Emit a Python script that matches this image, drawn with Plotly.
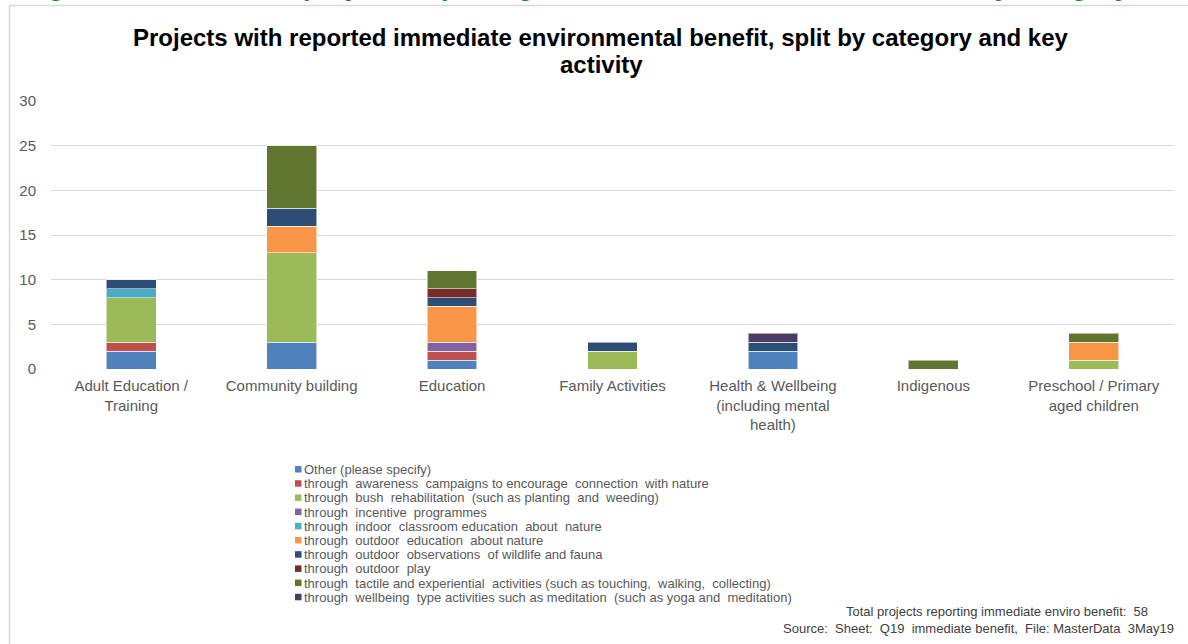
import plotly.graph_objects as go

# Categories and key activities
categories = [
    "Adult Education /<br>Training",
    "Community building",
    "Education",
    "Family Activities",
    "Health & Wellbeing<br>(including mental<br>health)",
    "Indigenous",
    "Preschool / Primary<br>aged children",
]

activities = [
    "Other (please specify)",
    "through  awareness  campaigns to encourage  connection  with nature",
    "through  bush  rehabilitation  (such as planting  and  weeding)",
    "through  incentive  programmes",
    "through  indoor  classroom education  about  nature",
    "through  outdoor  education  about nature",
    "through  outdoor  observations  of wildlife and fauna",
    "through  outdoor  play",
    "through  tactile and experiential  activities (such as touching,  walking,  collecting)",
    "through  wellbeing  type activities such as meditation  (such as yoga and  meditation)",
]

colors = ["#4F81BD", "#C0504D", "#9BBB59", "#8064A2", "#4BACC6",
          "#F79646", "#2C4D75", "#772C2A", "#5F7530", "#4D3B62"]

# Project counts per activity, one value per category (None = no projects)
other         = [2, 3, 1, None, 2, None, None]
awareness     = [1, None, 1, None, None, None, None]
bush          = [5, 10, None, 2, None, None, 1]
incentive     = [None, None, 1, None, None, None, None]
indoor        = [1, None, None, None, None, None, None]
outdoor_edu   = [None, 3, 4, None, None, None, 2]
observations  = [1, 2, 1, 1, 1, None, None]
outdoor_play  = [None, None, 1, None, None, None, None]
tactile       = [None, 7, 2, None, None, 1, 1]
wellbeing     = [None, None, None, None, 1, None, None]

series = [other, awareness, bush, incentive, indoor,
          outdoor_edu, observations, outdoor_play, tactile, wellbeing]

y_ticks = [0, 5, 10, 15, 20, 25, 30]

total = sum(v for s in series for v in s if v is not None)

W, H = 1188, 644
L, R, T, B = 51, 14, 101, 275
PW, PH = W - L - R, H - T - B


def px(x):
    return (x - L) / PW


def py(y):
    return (H - B - y) / PH


GREY = "#595959"
FONT = "Liberation Sans"

fig = go.Figure()
for name, vals, col in zip(activities, series, colors):
    fig.add_trace(go.Bar(
        x=categories, y=vals, name=name,
        marker=dict(color=col, line=dict(color="rgba(255,255,255,0.55)", width=1)),
        showlegend=False,
    ))

fig.update_layout(
    width=W, height=H,
    margin=dict(l=L, r=R, t=T, b=B),
    barmode="stack", bargap=0.69,
    paper_bgcolor="white", plot_bgcolor="white",
    font=dict(family=FONT, color=GREY),
    xaxis=dict(showgrid=False, showline=False, ticks="",
               tickfont=dict(size=15, color=GREY), ticklabelstandoff=6),
    yaxis=dict(range=[0, 30], tickvals=y_ticks, showgrid=True,
               gridcolor="#D9D9D9", gridwidth=1, zeroline=False, showline=False,
               ticks="", tickfont=dict(size=15, color=GREY), ticklabelstandoff=14),
)

ann = []
shapes = []

# Figure caption running along the top edge
ann.append(dict(
    text="Figure 14: Number of projects reporting immediate environmental benefit, by category",
    xref="paper", yref="paper", x=px(22), y=py(-13.8), xanchor="left", yanchor="middle",
    showarrow=False, font=dict(family=FONT, size=27, color="#168C16", weight="bold"),
))

# Chart frame
shapes.append(dict(type="line", xref="paper", yref="paper",
                   x0=px(9), x1=px(1200), y0=py(5.5), y1=py(5.5),
                   line=dict(color="#D9D9D9", width=1.5)))
shapes.append(dict(type="line", xref="paper", yref="paper",
                   x0=px(9.5), x1=px(9.5), y0=py(5.5), y1=py(660),
                   line=dict(color="#D9D9D9", width=1.5)))

# Title, one annotation per line
title_lines = ["Projects with reported immediate environmental benefit, split by category and key",
               "activity"]
for line, yc in zip(title_lines, [37, 64]):
    ann.append(dict(
        text=line, xref="paper", yref="paper", x=px(601), y=py(yc),
        xanchor="center", yanchor="middle", showarrow=False,
        font=dict(family=FONT, size=24, color="black", weight="bold"),
    ))

# Legend
row0, step = 469.5, 14.2
for i, (name, col) in enumerate(zip(activities, colors)):
    yc = row0 + i * step
    shapes.append(dict(type="rect", xref="paper", yref="paper",
                       x0=px(295), x1=px(301.5), y0=py(yc - 3.5), y1=py(yc + 3),
                       fillcolor=col, line=dict(width=0)))
    ann.append(dict(text=name, xref="paper", yref="paper",
                    x=px(302), y=py(yc), xanchor="left", yanchor="middle",
                    showarrow=False, font=dict(family=FONT, size=13, color=GREY)))

# Footer notes
ann.append(dict(text=f"Total projects reporting immediate enviro benefit:  {total}",
                xref="paper", yref="paper", x=px(1150), y=py(611),
                xanchor="right", yanchor="middle", showarrow=False,
                font=dict(family=FONT, size=13, color="#404040")))
ann.append(dict(text="Source:  Sheet:  Q19  immediate benefit,  File: MasterData  3May19",
                xref="paper", yref="paper", x=px(1176), y=py(628),
                xanchor="right", yanchor="middle", showarrow=False,
                font=dict(family=FONT, size=13, color="#404040")))

fig.update_layout(annotations=ann, shapes=shapes)
fig.write_html("out.html")
